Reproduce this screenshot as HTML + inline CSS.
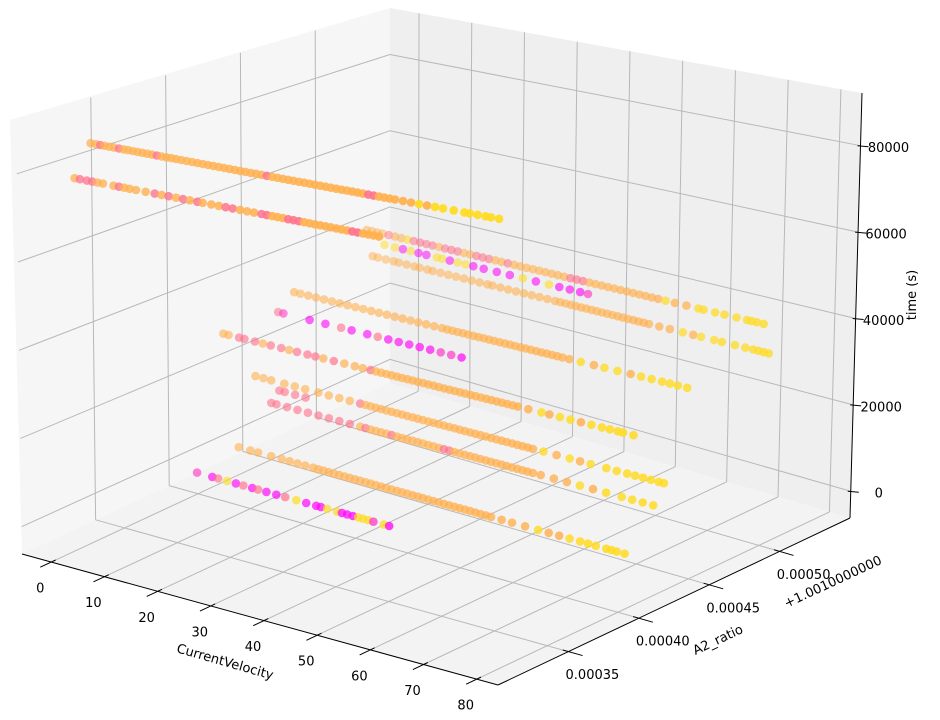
<!DOCTYPE html>
<html><head><meta charset="utf-8"><title>3D scatter</title>
<style>
html,body{margin:0;padding:0;background:#fff;}
svg{display:block;font-family:"DejaVu Sans","Liberation Sans",sans-serif;}
</style></head>
<body>
<svg id="chart" width="940" height="720" viewBox="0 0 940 720" xmlns="http://www.w3.org/2000/svg">
<rect x="0" y="0" width="940" height="720" fill="#ffffff"/>
<g id="panes"></g>
<g id="grid"></g>
<g id="axes"></g>
<g id="points"></g>
<text x="225" y="666" font-size="13" text-anchor="middle" transform="rotate(16 225 662)">CurrentVelocity</text>
<text x="718" y="644" font-size="13" text-anchor="middle" transform="rotate(-25 718 640)">A2_ratio</text>
<text x="833" y="586" font-size="13" text-anchor="middle" transform="rotate(-25 833 582)">+1.0010000000</text>
<text x="912" y="299" font-size="13" text-anchor="middle" transform="rotate(-90 912 295)">time (s)</text>
</svg>
<script>
// ---- data ----
const rowTime = [85000, 78200, 41000, 37100, 33700, 33200, 29200, 27700, 15000, 12500, 9500, 1200, -2000];
const rowRatio = [0.00033, 0.000319, 0.000515, 0.00052, 0.000519, 0.000463, 0.000455, 0.000425, 0.000443, 0.000445, 0.000443, 0.000425, 0.000403];
const rowVel = [
 [0,1,1.8,2.6,3.5,4.4,5.3,6.2,7,7.9, 8.8,9.7,10.6,11.5,12.4,13.3,14.2,15.1,16,17, 18,19,20,21,22,23,24,25,26,27, 28,29,30,31,32,33,34,35,36,37, 38,39,40,41,42,43,44,45,46,47, 48,49,50,51,52,53,54,55,56,57, 58.5,60,61.5,63,64.5,66,68,70,71,72.5, 74,75,76.5],
 [0,1,2.3,3.3,4.3,5.3,7.3,8.3,9.3,10.3, 11.5,13.3,15,16.3,17.6,19,20.3,21.6,23,24, 25.6,27,28.3,29.6,31,32.3,33.6,35,36,37, 38,39,40,41,42,43,44,45,46,47, 48,49,50,51,52,53,54,55,56,57],
 [0,1,2,3,4.2,5.4,6.6,7.8,9,10.2, 11.4,12.6,13.8,15,16.2,17.4,18.6,19.8,21,22.2, 23.4,24.6,25.8,27,28.2,29.4,30.6,31.8,33,34.2, 35.4,36.6,37.8,39,40.2,41.4,42.6,43.8,45,46.2, 47.4,48.6,49.8,51,52.2,53.4,54.6,55.8,57.2,59, 61.2,63.5,64.5,66.7,68.5,70.8,72.8,73.7,74.7,76],
 [2,4,5.5,7,8.5,10,12,13,14.5,16, 17.5,19,21,23.5,26,28.5,31,33.5,35.5,37.5, 39.5,41],
 [0,1,2.5,4,5,6.5,8,9,10.5,11.5, 13,14.5,16,17.5,19,20.5,22,23,24.5,26, 27.5,29,30.5,32,33.5,35,36,37,38,39, 40,41,42,43,44,45,46,47,48,49, 50,51,52,53,55,57,59.5,61.5,63,65.5, 67,69.5,71.5,73,74,75,76],
 [0.8,2,3.5,5,6.5,8,9.5,11,12.5,14, 15.5,17,18.5,20,21.5,23,24.5,26,27.5,29, 30,31,32,33,34,35,36,37,38,39, 40,41,42,43,44,45,46,47,48,49, 50,51,52,53.3,55.5,58,60,62.5,65,67, 69,71,72.5,74,75.8],
 [0,1,6,9,12,14,17,19,21,23,25,27,29,31,33,35],
 [-2,-1,1,2,4,5.5,7,9,10.5,12, 14,15.5,17,19,21,23,24.5,26,27,28, 29,30,31,32,33,34,35,36,37,38, 39,40,41,42,43,44,45,46,47,48, 49,50,51,52,53,54,56,58.5,60,62, 64,66,68,70,71.5,73,74,76],
 [-1,0.5,2,4.5,6.5,8.5,11,13,15,17, 19,20,21,22,23,24,25,26,27,28, 29,30,31,32,33,34,35,36,37,38, 39,40,41,42,43,44,45,46,47,48, 49,50,51,52,54,56.5,59,61,63,66, 68,70,71.5,73,74.5,76,77],
 [3,4,6,8],
 [2,3,5,7,9,11,13,15,17,19, 20,21,22,23,24,25,26,27,28,29, 30,31,32,33,34,35,36,37,38,39, 40,41,42,43,44,45,46,47,48,49, 50,51,52,53.5,56,58.5,61,63.5,66,69, 71,73,75],
 [0.8,3,4.5,7,9,10.5,12,13.5,15,16, 17,18,19,20,21,22,23,24,25,26, 27,28,29,30,31,32,33,34,35,36, 37,38,39,40,41,42,43,44,45,46, 47,48,49,51,53,55.5,58,60,62,64, 66,67.5,69,71,72,73,74.5],
 [-1.0,1.9,3.0,4.7,6.4,7.8,9.5,10.6,12.2,14.1,15.8,17.9,19.8,21.7,22.6,23.8,25.7,26.6,27.6,28.7,29.7,30.6,31.6,32.6,34.6,35.6]
];
// colour codes: m magenta, p pink, s salmon, o orange, y yellow
const rowCode = [
 "oosooosooo"+"oooosooooo"+"oooooooooo"+"ooooosoooo"+"oooooooooo"+"oooossoooo"+"ooyoyyyyyy"+"yyy",
 "osssooosoo"+"oososososo"+"oossooosso"+"oosssooooo"+"oooossoooo",
 "oooosooyss"+"ssosssooss"+"soosoooooo"+"ooosssoooo"+"ooooooooyo"+"oyyyyyyyyy",
 "yymymmyymy"+"ymmmmymymm"+"mp",
 "oooooooooo"+"oooooooooo"+"oooooooooo"+"oooooooooo"+"ooooooyoyy"+"yyyyyyy",
 "oooooooooo"+"oooooooooo"+"oooooooooo"+"oooooooooo"+"ooooyoyyoy"+"yyyyy",
 "spmmsmmsmmmmmppm",
 "oosssossos"+"ssosooosoo"+"oooooooooo"+"oooooooooo"+"oooooooyoy"+"yoyyyyyy",
 "oooooooooo"+"sooooooooo"+"oooooooooo"+"oooooooooo"+"ooooyoyoyy"+"yyyyyyy",
 "ssss",
 "ssssssssso"+"soooosoooo"+"ooooossooo"+"oooooooooo"+"ooooooyoyy"+"yyy",
 "oooooooooo"+"oooooooooo"+"oooooooooo"+"oooooooooo"+"ooooooyooy"+"yyyyyyy",
 "pmsymsmsmmsymmmyymmmyyypym"
];
const xTicks = [0,10,20,30,40,50,60,70,80];
const yTicks = [0.00035,0.00040,0.00045,0.00050];
const yTickLabels = ["0.00035","0.00040","0.00045","0.00050"];
const zTicks = [0,20000,40000,60000,80000];

// ---- axes / projection ----
const X0=-5.5, X1=84, Y0=0.0003, Y1=0.00055, Z0=-6200, Z1=92200;
const F00=[22,554],F10=[498,685],F11=[850,518],F01=[390,383];
const T00=[16,120],T10=[495,205],T11=[862,93],T01=[390,8];
function bil(a,b,c,d,u,v){
  return [(1-u)*(1-v)*a[0]+u*(1-v)*b[0]+u*v*c[0]+(1-u)*v*d[0],
          (1-u)*(1-v)*a[1]+u*(1-v)*b[1]+u*v*c[1]+(1-u)*v*d[1]];
}
function projUVW(u,v,w){
  const f=bil(F00,F10,F11,F01,u,v), t=bil(T00,T10,T11,T01,u,v);
  return [f[0]+w*(t[0]-f[0]), f[1]+w*(t[1]-f[1])];
}
function nx(x){return (x-X0)/(X1-X0);}
function ny(y){return (y-Y0)/(Y1-Y0);}
function nz(z){return (z-Z0)/(Z1-Z0);}
function proj(x,y,z){return projUVW(nx(x),ny(y),nz(z));}

const NS="http://www.w3.org/2000/svg";
function mk(tag,parent){const e=document.createElementNS(NS,tag);parent.appendChild(e);return e;}
function poly(pts){return pts.map(p=>p[0].toFixed(1)+","+p[1].toFixed(1)).join(" ");}

const panes=document.getElementById("panes");
let pl=mk("polygon",panes);
pl.setAttribute("points",poly([F00,F01,T01,[10,120]]));pl.setAttribute("fill","#f6f6f6");


let pr=mk("polygon",panes);
pr.setAttribute("points",poly([F01,F11,T11,T01]));pr.setAttribute("fill","#efefef");


let pf=mk("polygon",panes);
pf.setAttribute("points",poly([F00,F10,F11,F01]));pf.setAttribute("fill","#f3f3f3");



const grid=document.getElementById("grid");
function gline(a,b,name){
  const l=mk("line",grid);
  l.setAttribute("x1",a[0]);l.setAttribute("y1",a[1]);l.setAttribute("x2",b[0]);l.setAttribute("y2",b[1]);
  l.setAttribute("stroke","#b8b8b8");l.setAttribute("stroke-width","1");
  
  
}
xTicks.forEach(t=>{
  gline(proj(t,Y0,Z0),proj(t,Y1,Z0),'x-gridline-floor');
  gline(proj(t,Y1,Z0),proj(t,Y1,Z1),'x-gridline-back');
});
yTicks.forEach(t=>{
  gline(proj(X0,t,Z0),proj(X1,t,Z0),'y-gridline-floor');
  gline(proj(X0,t,Z0),proj(X0,t,Z1),'y-gridline-left');
});
zTicks.forEach(t=>{
  gline(proj(X0,Y0,t),proj(X0,Y1,t),'z-gridline-left');
  gline(proj(X0,Y1,t),proj(X1,Y1,t),'z-gridline-back');
});

const axes=document.getElementById("axes");
function aline(a,b,name,w){
  const l=mk("line",axes);
  l.setAttribute("x1",a[0]);l.setAttribute("y1",a[1]);l.setAttribute("x2",b[0]);l.setAttribute("y2",b[1]);
  l.setAttribute("stroke","#000");l.setAttribute("stroke-width",w||"1");
  
  
}
function atext(p,s,name){
  const t=mk("text",axes);
  t.setAttribute("x",p[0].toFixed(1));t.setAttribute("y",(p[1]+4.5).toFixed(1));
  t.setAttribute("font-size","13");t.setAttribute("text-anchor","middle");t.setAttribute("fill","#000");
  t.textContent=s;
  
  
}
aline(F00,F10,'x-axis-line');
aline(F10,F11,'y-axis-line');
aline(F11,T11,'z-axis-line');
const dy=(Y1-Y0), dx=(X1-X0);
xTicks.forEach(t=>{
  aline(proj(t,Y0+0.012*dy,Z0),proj(t,Y0-0.03*dy,Z0),'x-tick');
  const p=proj(t,Y0,Z0);
  atext([p[0]-11,p[1]+26],String(t),'x-tick-label');
});
yTicks.forEach((t,i)=>{
  aline(proj(X1-0.012*dx,t,Z0),proj(X1+0.03*dx,t,Z0),'y-tick');
  const p=proj(X1,t,Z0);
  atext([p[0]+24,p[1]+23],yTickLabels[i],'y-tick-label');
});
zTicks.forEach(t=>{
  const p=proj(X1,Y1,t);
  aline([p[0]-3,p[1]],[p[0]+8,p[1]+1],'z-tick');
  atext([p[0]+28,p[1]+2],String(t),'z-tick-label');
});

const hue={m:0.02,p:0.22,s:0.45,o:0.69,y:0.86};
const pts=[];
rowVel.forEach((vels,r)=>{
  vels.forEach((vel,i)=>{
    const c=(rowCode[r][i])||'o';
    const u=nx(vel), v=ny(rowRatio[r]);
    pts.push({x:vel,y:rowRatio[r],z:rowTime[r],c:c,d:u-v});
  });
});
pts.sort((a,b)=>a.d-b.d);
const gp=document.getElementById("points");
pts.forEach(pt=>{
  const p=proj(pt.x,pt.y,pt.z);
  const t=hue[pt.c];
  const col="rgb(255,"+Math.round(255*t)+","+Math.round(255*(1-t))+")";
  let a=0.5+0.5*(pt.d+0.8)/1.62; a=Math.max(0.45,Math.min(0.95,a));
  const c=mk("circle",gp);
  c.setAttribute("cx",p[0].toFixed(1));c.setAttribute("cy",p[1].toFixed(1));
  c.setAttribute("r","4.3");c.setAttribute("fill",col);c.setAttribute("fill-opacity",a.toFixed(2));
  
  
});
</script>
</body></html>
